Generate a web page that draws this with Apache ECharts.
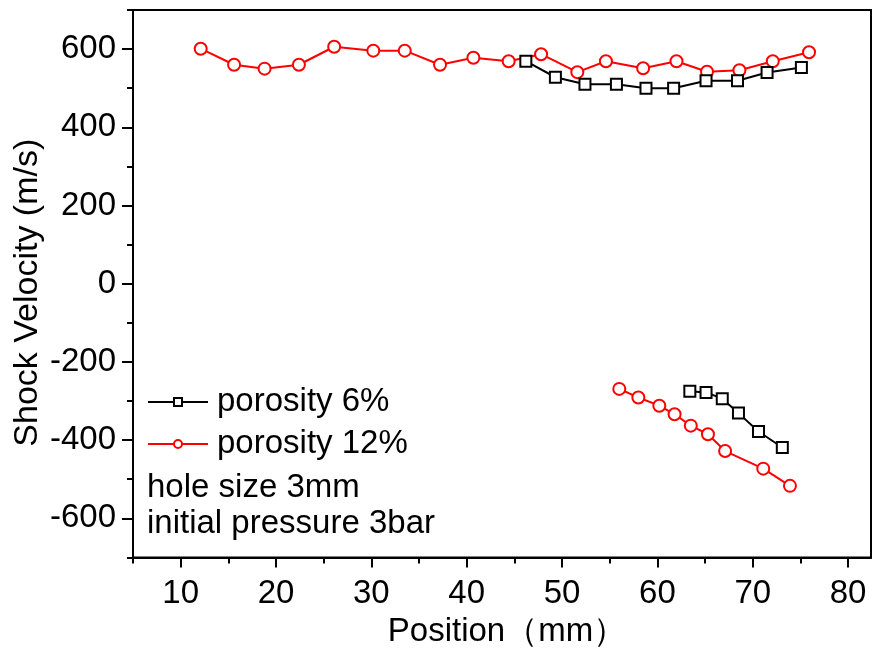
<!DOCTYPE html>
<html>
<head>
<meta charset="utf-8">
<script src="https://cdn.jsdelivr.net/npm/echarts@6/dist/echarts.min.js"></script>
<style>html,body{margin:0;padding:0;background:#fff;}#c{width:872px;height:648px;}</style>
</head>
<body>
<div id="c"></div>
<script>
// porosity 12% (red circles)
var pos12Upper = [12.1, 15.6, 18.8, 22.4, 26.1, 30.2, 33.5, 37.2, 40.7, 44.4, 47.8, 51.6, 54.6, 58.5, 62.0, 65.2, 68.6, 72.1, 75.9];
var vel12Upper = [601, 560, 550, 560, 606, 596, 596, 560, 578, 569, 587, 541, 569, 551, 569, 542, 546, 569, 592];
var pos12Lower = [56.0, 58.0, 60.2, 61.8, 63.5, 65.3, 67.1, 71.1, 73.9];
var vel12Lower = [-269, -291, -312, -334, -363, -385, -428, -473, -517];
// porosity 6% (black squares)
var pos6Upper = [46.2, 49.3, 52.4, 55.7, 58.8, 61.7, 65.1, 68.4, 71.5, 75.1];
var vel6Upper = [569, 528, 510, 510, 500, 500, 519, 519, 540, 553];
var pos6Lower = [63.4, 65.1, 66.8, 68.5, 70.6, 73.1];
var vel6Lower = [-275, -278, -294, -331, -378, -419];

var seriesNames = ['porosity 6%', 'porosity 12%'];
var noteLines = ['hole size 3mm', 'initial pressure 3bar'];
var xMajorTicks = [10, 20, 30, 40, 50, 60, 70, 80];
var xMinorTicks = [5, 15, 25, 35, 45, 55, 65, 75];
var yMajorTicks = [-600, -400, -200, 0, 200, 400, 600];
var yMinorTicks = [-700, -500, -300, -100, 100, 300, 500, 700];
var xName = 'Position（mm）';
var yName = 'Shock Velocity (m/s)';

function build(px1, py1, px2, py2) {
  var d = [];
  for (var i = 0; i < px1.length; i++) d.push([px1[i], py1[i]]);
  d.push(['-', '-']);
  for (var j = 0; j < px2.length; j++) d.push([px2[j], py2[j]]);
  return d;
}

var FONT = '"Liberation Sans", Arial, sans-serif';
var FS = 33;
var XMIN = 5, XMAX = 82.4, YMIN = -700, YMAX = 700;

var chart = echarts.init(document.getElementById('c'), null, {renderer: 'canvas'});
chart.setOption({
  animation: false,
  backgroundColor: '#fff',
  textStyle: {fontFamily: FONT, color: '#000'},
  grid: {left: 133, right: 1, top: 10, bottom: 90.6, containLabel: false, outerBoundsMode: 'none',
         show: true, borderColor: '#000', borderWidth: 2, backgroundColor: 'transparent'},
  legend: {
    orient: 'vertical', left: 147, top: 385, padding: 0,
    data: seriesNames,
    itemWidth: 60, itemHeight: 10, itemGap: 8,
    textStyle: {fontFamily: FONT, fontSize: FS, color: '#000', lineHeight: 34, padding: [0, 0, 0, 4]}
  },
  xAxis: [{
    type: 'value', min: XMIN, max: XMAX, position: 'bottom',
    name: xName, nameLocation: 'middle', nameGap: 58, nameMoveOverlap: false,
    nameTextStyle: {fontFamily: FONT, fontSize: FS, color: '#000', padding: [0, 0, 0, 10]},
    axisLine: {show: true, onZero: false, lineStyle: {color: '#000', width: 2}},
    axisTick: {show: true, inside: false, length: 10, lineStyle: {color: '#000', width: 2}, customValues: xMajorTicks},
    axisLabel: {show: true, margin: 20, fontFamily: FONT, fontSize: FS, color: '#000', customValues: xMajorTicks},
    splitLine: {show: false}
  }, {
    type: 'value', min: XMIN, max: XMAX, position: 'bottom', gridIndex: 0,
    axisLine: {show: false, onZero: false},
    axisTick: {show: true, inside: false, length: 6, lineStyle: {color: '#000', width: 2}, customValues: xMinorTicks},
    axisLabel: {show: false},
    splitLine: {show: false}
  }],
  yAxis: [{
    type: 'value', min: YMIN, max: YMAX, position: 'left',
    name: yName, nameLocation: 'middle', nameGap: 88, nameRotate: 90, nameMoveOverlap: false,
    nameTextStyle: {fontFamily: FONT, fontSize: 34, color: '#000', padding: [0, 18, 0, 0]},
    axisLine: {show: true, onZero: false, lineStyle: {color: '#000', width: 2}},
    axisTick: {show: true, inside: false, length: 11, lineStyle: {color: '#000', width: 2}, customValues: yMajorTicks},
    axisLabel: {show: true, margin: 17, fontFamily: FONT, fontSize: FS, color: '#000', customValues: yMajorTicks},
    splitLine: {show: false}
  }, {
    type: 'value', min: YMIN, max: YMAX, position: 'left', gridIndex: 0,
    axisLine: {show: false, onZero: false},
    axisTick: {show: true, inside: false, length: 6, lineStyle: {color: '#000', width: 2}, customValues: yMinorTicks},
    axisLabel: {show: false},
    splitLine: {show: false}
  }],
  series: [{
    name: seriesNames[1], type: 'line',
    data: build(pos12Upper, vel12Upper, pos12Lower, vel12Lower),
    connectNulls: false,
    symbol: 'emptyCircle', symbolSize: 12,
    lineStyle: {color: '#ff0000', width: 2},
    itemStyle: {color: '#ff0000', borderColor: '#ff0000', borderWidth: 2}
  }, {
    name: seriesNames[0], type: 'line',
    data: build(pos6Upper, vel6Upper, pos6Lower, vel6Lower),
    connectNulls: false,
    symbol: 'emptyRect', symbolSize: 11,
    lineStyle: {color: '#000', width: 2},
    itemStyle: {color: '#000', borderColor: '#000', borderWidth: 2}
  }],
  graphic: [{
    type: 'text', left: 147, top: 471,
    style: {text: noteLines[0], font: FS + 'px ' + FONT, fill: '#000'}
  }, {
    type: 'text', left: 147, top: 507,
    style: {text: noteLines[1], font: FS + 'px ' + FONT, fill: '#000'}
  }]
});
</script>
</body>
</html>
